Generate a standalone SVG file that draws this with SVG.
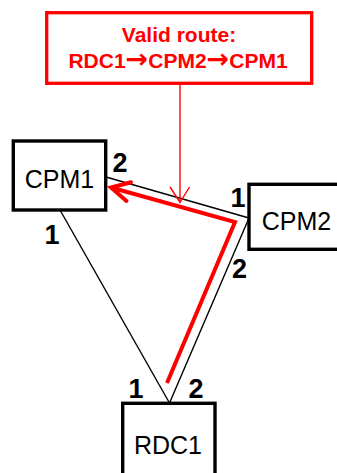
<svg xmlns="http://www.w3.org/2000/svg" width="337" height="473" viewBox="0 0 337 473">
  <style>
    .box { fill: #ffffff; stroke: #000000; stroke-width: 3.4; }
    .name { font-family: "Liberation Sans", Arial, sans-serif; font-size: 25px; fill: #000000; text-anchor: middle; }
    .port { font-family: "Liberation Sans", Arial, sans-serif; font-size: 27px; font-weight: bold; fill: #000000; text-anchor: middle; }
    .link { stroke: #000000; stroke-width: 1.4; fill: none; }
    .route { stroke: #ff0000; stroke-width: 4; fill: none; stroke-linejoin: miter; }
    .callout { fill: #ffffff; stroke: #ff0000; stroke-width: 3.3; }
    .callout-text { font-family: "Liberation Sans", Arial, sans-serif; font-size: 21px; font-weight: bold; fill: #ff0000; text-anchor: middle; }
    .arrow-glyph { font-family: "DejaVu Sans", sans-serif; font-size: 27px; font-weight: bold; }
    .pointer { stroke: #ff0000; stroke-width: 1.4; fill: none; }
  </style>

  <!-- physical links between ports -->
  <g id="connectors">
    <line class="link" x1="106" y1="177" x2="249" y2="218"/>
    <line class="link" x1="249" y1="218" x2="169.5" y2="403"/>
    <line class="link" x1="60" y1="210" x2="169.5" y2="403"/>
  </g>

  <g id="CPM1">
    <rect class="box" x="13.3" y="141" width="92.4" height="69"/>
    <text class="name" x="59.5" y="188">CPM1</text>
  </g>

  <g id="CPM2">
    <rect class="box" x="249" y="184.3" width="100" height="65"/>
    <text class="name" x="296.5" y="230">CPM2</text>
  </g>

  <g id="RDC1">
    <rect class="box" x="122.7" y="403.3" width="92.3" height="90"/>
    <text class="name" x="168" y="454">RDC1</text>
  </g>

  <!-- port numbers -->
  <g id="ports">
    <text class="port" x="120" y="172">2</text>
    <text class="port" x="52" y="244">1</text>
    <text class="port" x="238" y="207">1</text>
    <text class="port" x="239.5" y="278">2</text>
    <text class="port" x="136" y="398">1</text>
    <text class="port" x="196" y="398">2</text>
  </g>

  <!-- highlighted route RDC1 -> CPM2 -> CPM1 -->
  <g id="route">
    <polyline class="route" points="167,383 235,222 111,187.5"/>
    <polyline class="route" stroke-linejoin="round" stroke-linecap="round" points="131,182.3 111,187.5 126.5,201"/>
  </g>

  <!-- callout -->
  <g id="callout">
    <rect class="callout" x="46.7" y="12.7" width="265" height="70.6"/>
    <text class="callout-text" x="179" y="42">Valid route:</text>
    <text class="callout-text" x="178" y="68">RDC1<tspan class="arrow-glyph">→</tspan>CPM2<tspan class="arrow-glyph">→</tspan>CPM1</text>
    <line class="pointer" x1="180" y1="84" x2="180" y2="202.5"/>
    <polyline class="pointer" points="170,187 180,202.5 189.5,187"/>
  </g>
</svg>
